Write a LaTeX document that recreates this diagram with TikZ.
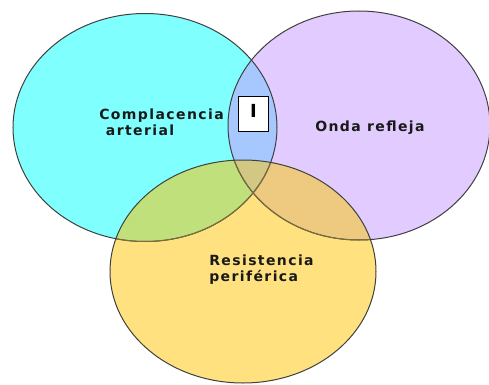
\documentclass[tikz,border=0pt]{standalone}
\usepackage{fontspec}
\newfontfamily\lblfont[LetterSpace=10]{DejaVu Sans}
\newfontfamily\boxfont{DejaVu Sans}
\definecolor{cC}{HTML}{80FFFF}
\definecolor{cP}{HTML}{E2CCFF}
\definecolor{cY}{HTML}{FFE27F}
\definecolor{cCP}{HTML}{A6C8FF}
\definecolor{cCY}{HTML}{C0E07C}
\definecolor{cPY}{HTML}{EECA80}
\definecolor{cCPY}{HTML}{D2C884}
\definecolor{edge}{HTML}{404040}
\definecolor{edgeY}{HTML}{7A6E3C}
\tikzset{
  lbl/.style={font=\lblfont\bfseries\fontsize{10.5}{12}\selectfont, align=left, inner sep=0pt, anchor=base west, text=black!90},
  ibox/.style={draw=black, fill=white, line width=0.8pt, inner sep=0pt, minimum width=22.5pt, text height=16pt, text depth=10pt, font=\boxfont\fontsize{13.5}{13.5}\selectfont, anchor=north west},
  outline/.style={draw=edge, line width=0.75pt}
}
\begin{document}
\begin{tikzpicture}[x=0.75pt,y=-0.75pt]
\useasboundingbox (0,0) rectangle (489,385);
\def\ellC{(145,127.5) ellipse [x radius=132, y radius=114]}
\def\ellP{(359,125.5) ellipse [x radius=131, y radius=114.5]}
\def\ellY{(243,271.5) ellipse [x radius=133, y radius=111.5]}
% base fills
\fill[cC] \ellC;
\fill[cP] \ellP;
\fill[cY] \ellY;
% overlaps
\begin{scope}\clip \ellC; \fill[cCP] \ellP; \end{scope}
\begin{scope}\clip \ellC; \fill[cCY] \ellY; \end{scope}
\begin{scope}\clip \ellP; \fill[cPY] \ellY; \end{scope}
\begin{scope}\clip \ellC; \clip \ellP; \fill[cCPY] \ellY; \end{scope}
% outlines
\draw[outline] \ellC;
\draw[outline] \ellP;
\begin{scope}\clip \ellY;
  \draw[outline, draw=edgeY] \ellC;
  \draw[outline, draw=edgeY] \ellP;
\end{scope}
\draw[outline] \ellY;
% labels
\node[lbl] (comp) at (99,135) {Complacencia\\[-0.5pt]\hspace*{5pt}arterial};
\node[lbl] (onda) at (315,131) {Onda refleja};
\node[lbl] (resi) at (209,281) {Resistencia\\periférica};
\node[ibox] (ibx) at (238,96) {\bfseries I};
\end{tikzpicture}
\end{document}
